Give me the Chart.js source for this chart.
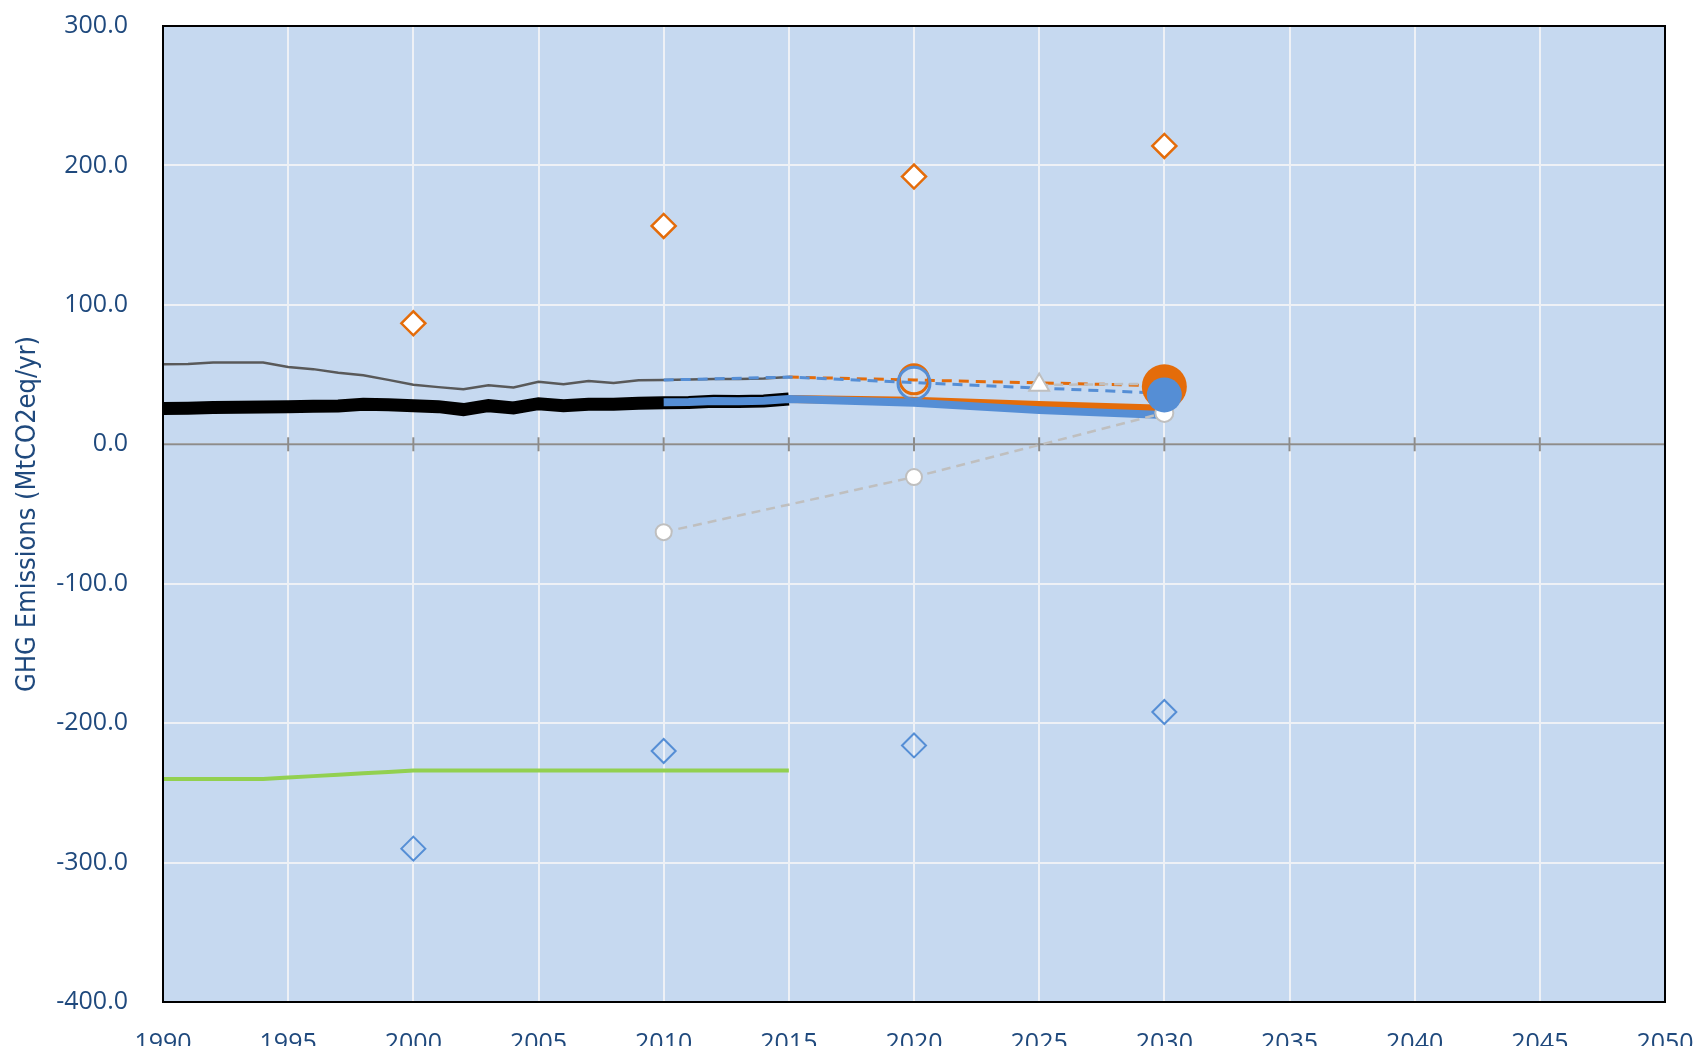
<!DOCTYPE html>
<html>
<head>
<meta charset="utf-8">
<script src="https://cdn.jsdelivr.net/npm/chart.js"></script>
<style>
  html, body { margin: 0; padding: 0; background: #fff; overflow: hidden; }
  #wrap { width: 1695px; height: 1046px; position: relative; }
</style>
</head>
<body>
<div id="wrap"><canvas id="chart"></canvas></div>
<script>
// historical inventory, 1990-2015
const histYears = [1990, 1991, 1992, 1993, 1994, 1995, 1996, 1997, 1998, 1999, 2000, 2001, 2002,
  2003, 2004, 2005, 2006, 2007, 2008, 2009, 2010, 2011, 2012, 2013, 2014, 2015];
const histExclLulucf = [57.4, 57.6, 58.6, 58.6, 58.6, 55.5, 53.9, 51.3, 49.5, 46.2, 42.7, 41.0, 39.4,
  42.4, 40.8, 44.8, 43.1, 45.3, 43.9, 45.9, 46.1, 46.4, 46.8, 46.9, 47.2, 48.3];
const histInclLulucf = [25.6, 25.8, 26.3, 26.5, 26.8, 27.0, 27.2, 27.5, 28.7, 28.4, 27.7, 27.0, 24.9,
  27.7, 26.1, 29.1, 27.7, 28.7, 28.7, 29.4, 29.8, 30.0, 30.8, 30.6, 31.0, 32.5];
const lulucf = [-240, -240, -240, -240, -240, -239, -238, -237, -236, -235, -234, -234, -234,
  -234, -234, -234, -234, -234, -234, -234, -234, -234, -234, -234, -234, -234];

// projections
const blueSolidYears = [2010, 2011, 2012, 2013, 2014, 2015, 2020, 2025, 2030];
const blueSolid = [30.1, 30.3, 31.1, 30.9, 31.3, 32.5, 29.8, 24.5, 21.0];
const orangeSolidYears = [2015, 2020, 2025, 2030];
const orangeSolid = [32.5, 31.3, 28.2, 25.5];
const blueDashYears = [2010, 2015, 2020, 2030];
const blueDash = [46.1, 48.2, 44.2, 36.5];
const orangeDashYears = [2015, 2020, 2030];
const orangeDash = [48.2, 46.1, 42.0];
const grayDashYears = [2010, 2020, 2030];
const grayDash = [-63.0, -23.5, 22.5];
const triangleYears = [2025, 2030];
const triangle = [42.5, 43.5];

// markers
const diamondYears = [2000, 2010, 2020, 2030];
const orangeDiamonds = [86.8, 156.6, 192.0, 214.0];
const blueDiamonds = [-290.0, -220.0, -216.0, -192.0];
const ringYear = [2020];
const orangeRing = [46.6];
const blueRing = [43.8];
const dotYear = [2030];
const orangeDot = [41.3];
const blueDot = [35.4];

const zeroYears = [1990, 1995, 2000, 2005, 2010, 2015, 2020, 2025, 2030, 2035, 2040, 2045, 2050];
const xTicks = zeroYears;
const yTicks = [-400, -300, -200, -100, 0, 100, 200, 300];

function pts(xs, ys) { return xs.map((x, i) => ({ x: x, y: ys[i] })); }

const textColor = "#1F497D";
const orange = "#E46C0A";
const blue = "#558ED5";
const lightGray = "#BFBFBF";

const plotDecor = {
  id: "plotDecor",
  beforeDraw(chart) {
    const a = chart.chartArea, ctx = chart.ctx;
    ctx.save();
    ctx.fillStyle = "#C6D9F0";
    ctx.fillRect(a.left, a.top, a.right - a.left, a.bottom - a.top);
    ctx.restore();
  },
  afterDraw(chart) {
    const a = chart.chartArea, ctx = chart.ctx;
    ctx.save();
    ctx.strokeStyle = "#000";
    ctx.lineWidth = 2;
    ctx.strokeRect(a.left, a.top, a.right - a.left, a.bottom - a.top);
    ctx.restore();
  }
};

const lineDs = (label, data, color, width, extra) => Object.assign({
  label: label, data: data, borderColor: color, backgroundColor: color,
  borderWidth: width, pointRadius: 0, showLine: true, fill: false, tension: 0
}, extra || {});

const markerDs = (label, data, style, radius, border, fillColor, bw, extra) => Object.assign({
  label: label, data: data, showLine: false, pointStyle: style, pointRadius: radius,
  pointBorderColor: border, pointBackgroundColor: fillColor, pointBorderWidth: bw,
  borderColor: border, backgroundColor: fillColor
}, extra || {});

// listed bottom to top
const datasets = [
  lineDs("zero", zeroYears.map(y => ({ x: y, y: 0 })), "#8C8C8C", 2,
    { pointStyle: "line", rotation: 90, pointRadius: 7, pointBorderWidth: 2, pointBorderColor: "#8C8C8C" }),
  lineDs("LULUCF", pts(histYears, lulucf), "#92D050", 4),
  lineDs("Total excl. LULUCF", pts(histYears, histExclLulucf), "#595959", 2.5),
  lineDs("Total incl. LULUCF", pts(histYears, histInclLulucf), "#000000", 13),
  lineDs("Projection (orange)", pts(orangeSolidYears, orangeSolid), orange, 8),
  lineDs("Projection (blue)", pts(blueSolidYears, blueSolid), blue, 8),
  lineDs("Gray dashed", pts(grayDashYears, grayDash), lightGray, 2.5,
    { borderDash: [9, 6], pointRadius: [8, 8, 9], pointBackgroundColor: "#FFFFFF", pointBorderColor: lightGray, pointBorderWidth: 2 }),
  lineDs("Orange dashed", pts(orangeDashYears, orangeDash), orange, 3, { borderDash: [10, 7] }),
  lineDs("Blue dashed", pts(blueDashYears, blueDash), blue, 3, { borderDash: [10, 7] }),
  lineDs("Triangle", pts(triangleYears, triangle), lightGray, 2.5,
    { borderDash: [9, 6], pointRadius: [11.5, 0], pointStyle: "triangle", pointBackgroundColor: "#FFFFFF", pointBorderColor: lightGray, pointBorderWidth: 2 }),
  markerDs("Orange diamonds", pts(diamondYears, orangeDiamonds), "rectRot", 12, orange, "#FFFFFF", 2.5),
  markerDs("Blue diamonds", pts(diamondYears, blueDiamonds), "rectRot", 12, blue, "rgba(0,0,0,0)", 2),
  markerDs("Orange ring", pts(ringYear, orangeRing), "circle", 14.5, orange, "rgba(0,0,0,0)", 3),
  markerDs("Blue ring", pts(ringYear, blueRing), "circle", 16, blue, "rgba(0,0,0,0)", 3),
  markerDs("Orange dot", pts(dotYear, orangeDot), "circle", 22.5, orange, orange, 0),
  markerDs("Blue dot", pts(dotYear, blueDot), "circle", 17.5, blue, blue, 0)
];
datasets.forEach((d, i) => { d.order = datasets.length - i; });

new Chart(document.getElementById("chart").getContext("2d"), {
  type: "scatter",
  data: { datasets: datasets },
  options: {
    responsive: true,
    maintainAspectRatio: false,
    animation: false,
    layout: { padding: { top: 26, right: 30, left: 0, bottom: 0 } },
    plugins: { legend: { display: false }, tooltip: { enabled: false } },
    scales: {
      x: {
        type: "linear", min: 1990, max: 2050,
        afterBuildTicks: s => { s.ticks = xTicks.map(v => ({ value: v })); },
        afterFit: s => { s.height = 44; s.paddingLeft = 0; s.paddingRight = 0; },
        grid: { color: "#EEF1F6", lineWidth: 2, drawTicks: false },
        border: { display: false },
        ticks: { padding: 27, color: textColor, maxRotation: 0, autoSkip: false,
          font: { family: "Open Sans", size: 25 }, callback: v => String(v) }
      },
      y: {
        type: "linear", min: -400, max: 300,
        afterBuildTicks: s => { s.ticks = yTicks.map(v => ({ value: v })); },
        afterFit: s => { s.width = 163; s.paddingTop = 0; s.paddingBottom = 0; },
        grid: { color: "#EEF1F6", lineWidth: 2, drawTicks: false },
        border: { display: false },
        title: { display: true, text: "GHG Emissions (MtCO2eq/yr)", color: textColor,
          font: { family: "'DejaVu Sans Condensed', 'Roboto Condensed', Roboto", size: 27 },
          padding: { top: 12, bottom: 0 } },
        ticks: { padding: 35, color: textColor, font: { family: "Open Sans", size: 25 },
          callback: v => v.toFixed(1) }
      }
    }
  },
  plugins: [plotDecor]
});
</script>
</body>
</html>
